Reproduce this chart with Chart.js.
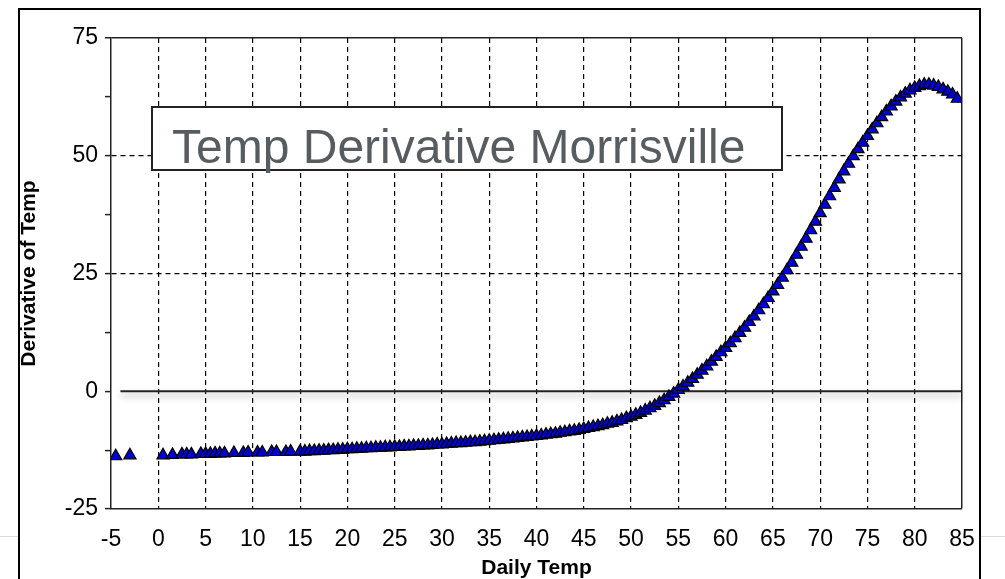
<!DOCTYPE html>
<html>
<head>
<meta charset="utf-8">
<script src="https://cdn.jsdelivr.net/npm/chart.js@4.4.0/dist/chart.umd.min.js"></script>
<style>
  html, body { margin: 0; padding: 0; background: #fff; }
  #wrap { position: relative; width: 1005px; height: 579px; overflow: hidden; }
  #chart { position: absolute; left: 0; top: 0; }
  #frame { position: absolute; left: 18px; top: 8px; width: 963px; height: 620px; box-sizing: border-box;
           border: 2px solid #000; border-bottom: none; }
  .rule { position: absolute; top: 536px; height: 1px; background: #d9d9d9; }
  #titleBox { position: absolute; left: 151px; top: 106px; width: 632px; height: 65px; box-sizing: border-box;
              border: 2px solid #222; background: #fff; }
  #titleBox span { position: absolute; left: 19px; top: 15px; font: 48px/48px "Liberation Sans", Arial, sans-serif;
                   color: #575c61; white-space: nowrap; }
</style>
</head>
<body>
<div id="wrap">
  <canvas id="chart" width="1005" height="579"></canvas>
  <div id="frame"></div>
  <div class="rule" style="left:0;width:18px"></div>
  <div class="rule" style="left:981px;width:24px"></div>
  <div id="titleBox"><span>Temp Derivative Morrisville</span></div>
</div>
<script>
// Daily temperature (x) and derivative of temp (y)
const dailyTemp = [
  -4.5, -3, 0.5, 1.5, 2.5, 3, 3.5, 4.5, 5, 5.5, 6, 6.5, 7, 8, 9, 9.5, 10.5, 11, 12, 12.5, 13.5, 14,
  15, 15.5, 16, 16.5, 17, 17.5, 18, 18.5, 19, 19.5, 20, 20.5, 21, 21.5, 22, 22.5, 23, 23.5, 24, 24.5,
  25, 25.5, 26, 26.5, 27, 27.5, 28, 28.5, 29, 29.5, 30, 30.5, 31, 31.5, 32, 32.5, 33, 33.5, 34, 34.5,
  35, 35.5, 36, 36.5, 37, 37.5, 38, 38.5, 39, 39.5, 40, 40.5, 41, 41.5, 42, 42.5, 43, 43.5, 44, 44.5,
  45, 45.5, 46, 46.5, 47, 47.5, 48, 48.5, 49, 49.5, 50, 50.5, 51, 51.5, 52, 52.5, 53, 53.5, 54, 54.5,
  55, 55.5, 56, 56.5, 57, 57.5, 58, 58.5, 59, 59.5, 60, 60.5, 61, 61.5, 62, 62.5, 63, 63.5, 64, 64.5,
  65, 65.5, 66, 66.5, 67, 67.5, 68, 68.5, 69, 69.5, 70, 70.5, 71, 71.5, 72, 72.5, 73, 73.5, 74, 74.5,
  75, 75.5, 76, 76.5, 77, 77.5, 78, 78.5, 79, 79.5, 80, 80.5, 81, 81.5, 82, 82.5, 83, 83.5, 84, 84.5
];
const derivativeOfTemp = [
  -13.8, -13.6, -13.6, -13.5, -13.4, -13.4, -13.4, -13.3, -13.3, -13.3, -13.2, -13.2, -13.2, -13.1, -13.1, -13.0, -13.0, -13.0, -12.9, -12.9, -12.9, -12.8,
  -12.8, -12.8, -12.7, -12.7, -12.6, -12.6, -12.5, -12.5, -12.4, -12.4, -12.3, -12.3, -12.2, -12.2, -12.1, -12.1, -12.0, -12.0, -11.9, -11.9,
  -11.8, -11.8, -11.7, -11.7, -11.6, -11.6, -11.5, -11.5, -11.4, -11.3, -11.3, -11.2, -11.1, -11.0, -11.0, -10.9, -10.8, -10.8, -10.7, -10.6,
  -10.5, -10.4, -10.3, -10.2, -10.1, -10.0, -9.9, -9.8, -9.7, -9.6, -9.5, -9.4, -9.2, -9.1, -9.0, -8.8, -8.7, -8.5, -8.4, -8.2,
  -8.0, -7.8, -7.6, -7.4, -7.2, -6.9, -6.7, -6.4, -6.1, -5.7, -5.4, -5.0, -4.6, -4.1, -3.6, -3.1, -2.5, -1.9, -1.2, -0.5,
  0.3, 1.0, 1.8, 2.6, 3.5, 4.4, 5.3, 6.3, 7.3, 8.3, 9.2, 10.2, 11.3, 12.4, 13.5, 14.7, 15.9, 17.2, 18.5, 19.8,
  21.2, 22.6, 24.1, 25.7, 27.3, 29.0, 30.7, 32.4, 34.2, 36.0, 37.8, 39.6, 41.4, 43.2, 45.0, 46.7, 48.3, 49.9, 51.4, 52.8,
  54.2, 55.6, 56.9, 58.2, 59.4, 60.5, 61.5, 62.4, 63.2, 63.9, 64.4, 64.8, 65.1, 65.1, 64.9, 64.6, 64.1, 63.6, 63.0, 62.1
];
const xRange = [-5, 85];
const yRange = [-25, 75];
const yLabelledTicks = [-25, 0, 25, 50, 75];

Chart.defaults.font.family = '"Liberation Sans", Arial, sans-serif';

// solid zero line with a soft shadow under it
const zeroLine = {
  id: 'zeroLine',
  beforeDatasetsDraw(chart) {
    const { ctx, chartArea, scales: { x, y } } = chart;
    const py = y.getPixelForValue(0);
    ctx.save();
    ctx.strokeStyle = '#222';
    ctx.lineWidth = 2;
    ctx.shadowColor = 'rgba(0,0,0,0.35)';
    ctx.shadowBlur = 7;
    ctx.shadowOffsetY = 4;
    ctx.beginPath();
    ctx.moveTo(x.getPixelForValue(-4), py);
    ctx.lineTo(chartArea.right, py);
    ctx.stroke();
    ctx.restore();
  }
};

const tickVal = (c) => (c.tick ? c.tick.value : null);

new Chart(document.getElementById('chart'), {
  type: 'scatter',
  data: {
    datasets: [{
      data: dailyTemp.map((t, i) => ({ x: t, y: derivativeOfTemp[i] })),
      pointStyle: 'triangle',
      pointRadius: 7,
      pointBorderWidth: 1.2,
      backgroundColor: '#0000d4',
      borderColor: '#000',
      showLine: false
    }]
  },
  options: {
    responsive: false,
    animation: false,
    layout: { padding: { left: 0, top: 38, right: 43, bottom: 0 } },
    plugins: { legend: { display: false }, tooltip: { enabled: false } },
    scales: {
      x: {
        type: 'linear',
        min: xRange[0],
        max: xRange[1],
        afterFit: (s) => { s.height = 70; },
        ticks: { stepSize: 5, autoSkip: false, maxRotation: 0, padding: 17, color: '#000', font: { size: 23 } },
        title: { display: true, text: 'Daily Temp', color: '#000', padding: 0,
                 font: { size: 21, weight: 'bold', lineHeight: 1 } },
        grid: {
          drawTicks: false,
          color: (c) => { const v = tickVal(c); return v === xRange[0] ? 'rgba(0,0,0,0)' : (v === xRange[1] ? '#222' : '#000'); },
          lineWidth: (c) => (tickVal(c) === xRange[1] ? 1.5 : 1.2)
        },
        border: { color: '#222', width: 1.5, dash: (c) => (tickVal(c) === xRange[1] ? [] : [5, 4]) }
      },
      y: {
        min: yRange[0],
        max: yRange[1],
        afterFit: (s) => { s.width = 111; },
        ticks: {
          stepSize: 12.5, padding: 7, color: '#000', font: { size: 23 },
          callback: (v) => (yLabelledTicks.includes(v) ? v : '')
        },
        title: { display: true, text: 'Derivative of Temp', color: '#000', padding: { top: 19, bottom: 0 },
                 font: { size: 21, weight: 'bold', lineHeight: 1 } },
        grid: {
          tickLength: 6,
          tickColor: '#222',
          tickWidth: 1.5,
          color: (c) => { const v = tickVal(c); return v === 75 ? '#222' : (v === 25 || v === 50 ? '#000' : 'rgba(0,0,0,0)'); },
          lineWidth: (c) => (tickVal(c) === 75 ? 1.5 : 1.2)
        },
        border: { color: '#222', width: 1.5, dash: (c) => { const v = tickVal(c); return v === 25 || v === 50 ? [5, 4] : []; } }
      }
    }
  },
  plugins: [zeroLine]
});
</script>
</body>
</html>
